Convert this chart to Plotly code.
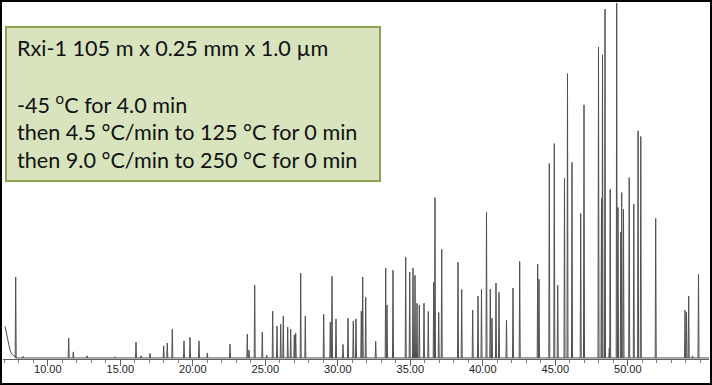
import plotly.graph_objects as go

# ---- data (retention time in min, relative height in % of full scale)
peak_times = [7.786, 8.29, 11.441, 11.759, 12.703, 14.634, 16.083, 16.428, 17.048, 17.993,
              18.241, 18.586, 19.393, 19.807, 20.428, 21.0, 22.566, 23.759, 23.876, 24.269,
              24.793, 25.097, 25.510, 25.807, 26.062, 26.241, 26.545, 26.752, 27.0, 27.097,
              27.441, 27.759, 29.028, 29.483, 29.6, 29.876, 30.359, 30.703, 31.069, 31.255,
              31.621, 31.717, 31.924, 32.614, 33.303, 33.393, 33.807, 34.683, 34.959, 35.186,
              35.324, 35.462, 35.621, 35.945, 36.241, 36.614, 36.703, 36.959, 37.166, 38.290,
              38.545, 39.303, 39.669, 39.910, 40.255, 40.517, 40.634, 40.910, 41.117, 41.634,
              42.083, 42.545, 43.786, 43.876, 44.586, 44.931, 45.166, 45.634, 45.841, 46.152,
              46.752, 46.979, 47.979, 48.186, 48.255, 48.428, 48.724, 48.786, 49.234, 49.324,
              49.517, 49.579, 49.703, 50.097, 50.414, 50.710, 50.897, 51.924, 53.945, 54.048,
              54.2, 54.462, 54.876]
peak_heights = [22.8, 0.4, 5.6, 1.7, 0.6, 0.3, 4.5, 0.6, 1.3, 3.4,
                4.2, 8.1, 4.8, 5.8, 4.8, 1.4, 3.9, 6.7, 2.2, 20.5,
                7.3, 0.8, 13.2, 9.0, 9.5, 11.8, 8.7, 8.1, 6.5, 7.0,
                23.9, 11.8, 12.3, 10.1, 23.0, 11.0, 3.8, 11.2, 10.4, 11.0,
                13.2, 22.8, 17.1, 4.7, 25.3, 14.9, 24.7, 28.4, 24.2, 25.3,
                23.3, 15.4, 14.9, 15.4, 13.1, 21.3, 45.2, 12.8, 30.6, 27.0,
                19.3, 13.5, 17.4, 19.3, 41.0, 19.4, 11.2, 21.1, 18.5, 10.7,
                19.7, 27.2, 26.4, 22.2, 54.8, 60.4, 20.5, 50.6, 80.1, 55.1,
                40.7, 71.3, 87.6, 44.9, 85.4, 98.3, 2.8, 47.5, 100.5, 42.4,
                35.4, 46.6, 41.9, 50.8, 43.3, 64.0, 62.4, 39.3, 13.5, 12.9,
                17.4, 0.6, 23.6]
solvent_times = [7.048, 7.166, 7.276, 7.393, 7.510, 7.738, 7.78]
solvent_heights = [8.9, 6.2, 4.2, 2.2, 1.1, 0.4, 0.0]
run_start, run_end = 7.048, 55.7

tick_values = [10, 15, 20, 25, 30, 35, 40, 45, 50]
tick_labels = ["10.00", "15.00", "20.00", "25.00", "30.00", "35.00", "40.00", "45.00", "50.00"]

box_lines = ["Rxi-1 105 m x 0.25 mm x 1.0 µm",
             "",
             "-45 <sup>o</sup>C for 4.0 min",
             "then 4.5 °C/min to 125 °C for 0 min",
             "then 9.0 °C/min to 250 °C for 0 min"]

# ---- build trace (baseline + solvent front + peaks as narrow spikes)
half_w = 0.035
xs, ys = [solvent_times[-1], run_end, None], [0, 0, None]
xs += solvent_times + [None]
ys += solvent_heights + [None]
for t, h in zip(peak_times, peak_heights):
    xs += [t - half_w, t, t + half_w, None]
    ys += [0, h, 0, None]

W, H = 712, 385
ML, MR, MT, MB = 3, 3, 3, 26
PW, PH = W - ML - MR, H - MT - MB


def px_x(p):
    return (p - ML) / PW


def px_y(p):
    return (H - MB - p) / PH


fig = go.Figure()
fig.add_trace(go.Scatter(x=xs, y=ys, mode="lines", line=dict(color="#505050", width=1),
                         hoverinfo="skip", showlegend=False, connectgaps=False))

# outer frame
fig.add_shape(type="rect", xref="paper", yref="paper",
              x0=px_x(1), x1=px_x(711), y0=px_y(1), y1=px_y(384),
              line=dict(color="black", width=2), fillcolor="rgba(0,0,0,0)")
# info box
fig.add_shape(type="rect", xref="paper", yref="paper",
              x0=px_x(6), x1=px_x(380), y0=px_y(27), y1=px_y(181),
              line=dict(color="#8aa453", width=2), fillcolor="#d7e4bd")

line_y = [48, None, 104, 132, 160]
for txt, yy in zip(box_lines, line_y):
    if yy is None:
        continue
    fig.add_annotation(text=txt, xref="paper", yref="paper", x=px_x(15), y=px_y(yy),
                       xanchor="left", yanchor="middle", showarrow=False,
                       font=dict(family="Lato", size=21.6, color="#111111"))

x0 = 10 + (ML - 47.8) / 14.5
x1 = 10 + (W - MR - 47.8) / 14.5
fig.update_layout(
    width=W, height=H, margin=dict(l=ML, r=MR, t=MT, b=MB),
    paper_bgcolor="white", plot_bgcolor="white",
    xaxis=dict(range=[x0, x1], showgrid=False, zeroline=False, showline=True,
               linecolor="#606060", linewidth=1, ticks="outside", ticklen=6,
               tickcolor="#606060", tickvals=tick_values, ticktext=tick_labels,
               ticklabelstandoff=-6,
               tickfont=dict(family="Liberation Sans", size=11, color="#222222"),
               minor=dict(ticks="outside", dtick=1, tick0=0, ticklen=3, tickcolor="#808080")),
    yaxis=dict(visible=False, range=[-0.3, 100]),
)
fig.write_html("out.html", config={"displayModeBar": False},
               post_script="document.body.style.margin='0';document.body.style.overflow='hidden';")
